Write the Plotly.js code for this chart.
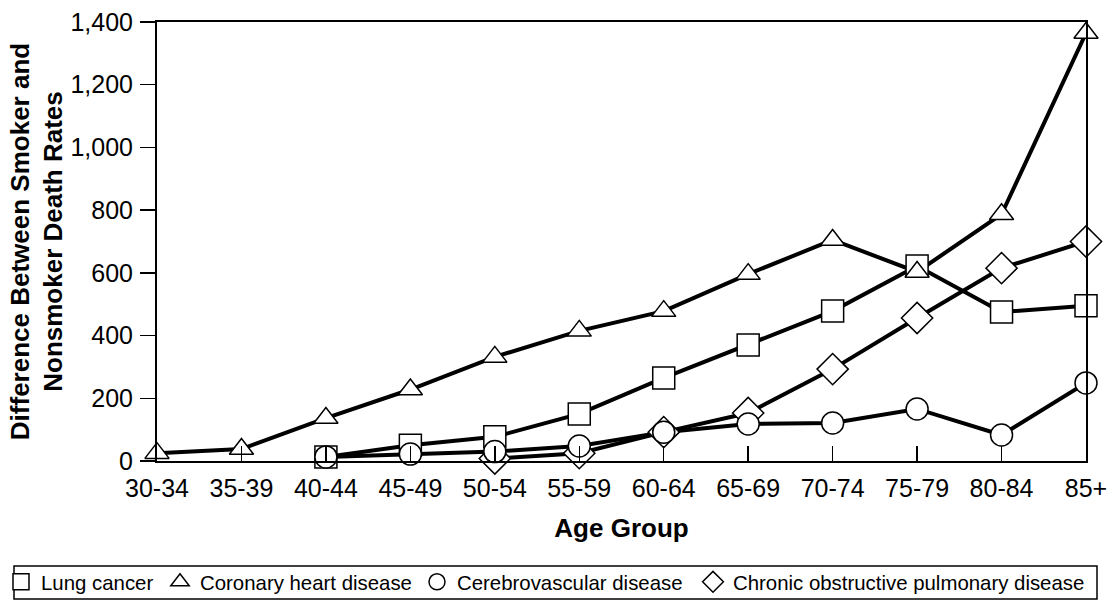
<!DOCTYPE html>
<html>
<head>
<meta charset="utf-8">
<script src="https://cdn.plot.ly/plotly-3.0.1.min.js"></script>
<style>html,body{margin:0;padding:0;background:#fff;}#chart{width:1110px;height:602px;}</style>
</head>
<body>
<div id="chart"></div>
<script>
var categories = ['30-34','35-39','40-44','45-49','50-54','55-59','60-64','65-69','70-74','75-79','80-84','85+'];
var lungCancer = [null,null,13,50,77,150,265,370,478,622,475,495];
var coronaryHeart = [25,38,137,228,332,415,478,596,705,603,787,1365];
var cerebrovascular = [null,null,13,22,30,48,92,118,121,166,83,249];
var copd = [null,null,null,null,8,25,92,153,293,456,615,700];

var seriesNames = ['Lung cancer','Coronary heart disease','Cerebrovascular disease','Chronic obstructive pulmonary disease'];
var seriesValues = [lungCancer, coronaryHeart, cerebrovascular, copd];
var seriesSymbols = ['square','triangle-up','circle','diamond'];
var seriesSizes = [22, 21, 22, 24];
var legendIds = ['legend','legend2','legend3','legend4'];
var legendX = [1, 160, 417, 693];
var drawOrder = [0, 1, 3, 2];
var yTitle = 'Difference Between Smoker and<br>Nonsmoker Death Rates';
var xTitle = 'Age Group';

var FONT = 'Liberation Sans, Arial, sans-serif';
var W = 1110, H = 602;
var ML = 157, MR = 24, MT = 22, MB = 141;
var PW = W - ML - MR, PH = H - MT - MB;
var traces = [];
drawOrder.forEach(function(i){
  traces.push({
    x: categories, y: seriesValues[i], type: 'scatter', mode: 'lines',
    line: {color: '#000', width: 4}, showlegend: false, hoverinfo: 'skip',
    cliponaxis: false, connectgaps: false
  });
});
drawOrder.forEach(function(i){
  traces.push({
    x: categories, y: seriesValues[i], type: 'scatter', mode: 'markers',
    name: seriesNames[i], legend: legendIds[i],
    marker: {symbol: seriesSymbols[i], size: seriesSizes[i], color: '#fff', line: {color: '#000', width: 1.5}},
    cliponaxis: false
  });
});

var layout = {
  width: W, height: H,
  margin: {l: ML, r: MR, t: MT, b: MB},
  paper_bgcolor: '#fff', plot_bgcolor: '#fff',
  font: {family: FONT, color: '#000'},
  showlegend: true,
  xaxis: {
    type: 'category', range: [0, 11],
    showgrid: false, zeroline: false,
    showline: true, linecolor: '#000', linewidth: 2, mirror: true,
    ticks: 'inside', ticklen: 15, tickwidth: 1.5, tickcolor: '#000',
    tickfont: {family: FONT, size: 25, color: '#000'},
    ticklabelstandoff: 4,
    title: {text: xTitle, font: {family: FONT, size: 26, weight: 'bold', color: '#000'}, standoff: 18},
    automargin: 'bottom'
  },
  yaxis: {
    range: [0, 1400], tickvals: [0,200,400,600,800,1000,1200,1400],
    tickformat: ',d',
    showgrid: false, zeroline: false,
    showline: true, linecolor: '#000', linewidth: 2, mirror: true,
    ticks: 'outside', ticklen: 15, tickwidth: 1.5, tickcolor: '#000',
    tickfont: {family: FONT, size: 25, color: '#000'},
    ticklabelstandoff: 2,
    title: {text: yTitle, font: {family: FONT, size: 26, weight: 'bold', color: '#000'}, standoff: 0},
    automargin: 'left'
  },
  shapes: [{
    type: 'rect', xref: 'paper', yref: 'paper',
    x0: (14 - ML) / PW, x1: (1097 - ML) / PW,
    y0: (H - MB - 566) / PH, y1: (H - MB - 599) / PH,
    line: {color: '#000', width: 1.5}, fillcolor: 'rgba(0,0,0,0)', layer: 'below'
  }]
};

legendIds.forEach(function(id, i){
  layout[id] = {
    orientation: 'h',
    xref: 'container', yref: 'container',
    x: legendX[i] / W, xanchor: 'left',
    y: (H - 582) / H, yanchor: 'middle',
    borderwidth: 0, bgcolor: 'rgba(0,0,0,0)',
    font: {family: FONT, size: 20.4, color: '#000'},
    itemclick: false
  };
});

Plotly.newPlot('chart', traces, layout, {displayModeBar: false, staticPlot: true});
</script>
</body>
</html>
